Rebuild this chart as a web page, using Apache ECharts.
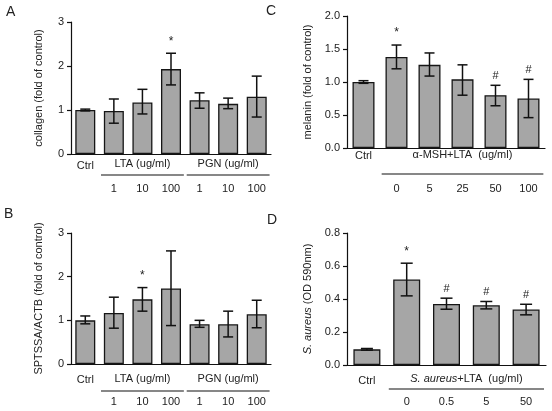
<!DOCTYPE html>
<html><head><meta charset="utf-8">
<script src="https://cdn.jsdelivr.net/npm/echarts@6/dist/echarts.min.js"></script>
<style>html,body{margin:0;padding:0;background:#fff}#c{width:552px;height:411px}</style>
</head><body><div id="c"></div>
<script>
// ---- Panel A: collagen ----
const catA = ['Ctrl','1','10','100','1','10','100'];
const valA = [1.00, 0.98, 1.17, 1.93, 1.22, 1.14, 1.30];
const loA  = [0.98, 0.70, 0.91, 1.57, 1.04, 1.03, 0.84];
const hiA  = [1.02, 1.25, 1.47, 2.29, 1.39, 1.27, 1.77];
const markA = ['', '', '', '*', '', '', ''];
const groupsA = [{label:'LTA (ug/ml)', from:1, to:3}, {label:'PGN (ug/ml)', from:4, to:6}];

// ---- Panel B: SPTSSA/ACTB ----
const catB = ['Ctrl','1','10','100','1','10','100'];
const valB = [1.00, 1.17, 1.48, 1.73, 0.91, 0.91, 1.14];
const loB  = [0.92, 0.82, 1.21, 0.88, 0.84, 0.62, 0.83];
const hiB  = [1.10, 1.53, 1.75, 2.59, 1.00, 1.21, 1.46];
const markB = ['', '', '*', '', '', '', ''];
const groupsB = [{label:'LTA (ug/ml)', from:1, to:3}, {label:'PGN (ug/ml)', from:4, to:6}];

// ---- Panel C: melanin ----
const catC = ['Ctrl','0','5','25','50','100'];
const valC = [1.00, 1.38, 1.26, 1.04, 0.80, 0.75];
const loC  = [0.98, 1.20, 1.09, 0.80, 0.64, 0.46];
const hiC  = [1.02, 1.56, 1.44, 1.26, 0.95, 1.04];
const markC = ['', '*', '', '', '#', '#'];
const groupsC = [{label:'\u03b1-MSH+LTA  (ug/ml)', from:1, to:5}];

// ---- Panel D: S. aureus ----
const catD = ['Ctrl','0','0.5','5','50'];
const valD = [0.095, 0.518, 0.370, 0.362, 0.336];
const loD  = [0.090, 0.419, 0.338, 0.340, 0.304];
const hiD  = [0.100, 0.617, 0.405, 0.385, 0.368];
const markD = ['', '*', '#', '#', '#'];
const groupsD = [{label:'{i|S. aureus}+LTA  (ug/ml)', from:1, to:4}];

const FONT = "'Liberation Sans', Arial, sans-serif";
const TXT = '#222';

const panels = [
  {cat:catA, val:valA, lo:loA, hi:hiA, mark:markA, groups:groupsA, letter:'A', lx:12, ly:13,
   grid:{left:71, top:22, width:200, height:132}, max:3, interval:1, dec:0,
   name:'collagen (fold of control)', nameGap:27, barW:20, capW:5,
   numOff:27, ctrlOff:4, grpOff:10, lineOff:21},
  {cat:catB, val:valB, lo:loB, hi:hiB, mark:markB, groups:groupsB, letter:'B', lx:10, ly:215,
   grid:{left:71, top:233, width:200, height:131}, max:3, interval:1, dec:0,
   name:'SPTSSA/ACTB (fold of control)', nameGap:27, barW:20, capW:5,
   numOff:30, ctrlOff:8, grpOff:15, lineOff:27},
  {cat:catC, val:valC, lo:loC, hi:hiC, mark:markC, groups:groupsC, letter:'C', lx:272, ly:12,
   grid:{left:347, top:16, width:198, height:132}, max:2, interval:0.5, dec:1,
   name:'melanin (fold of control)', nameGap:34, barW:22, capW:5,
   numOff:33, ctrlOff:0, grpOff:7, lineOff:26},
  {cat:catD, val:valD, lo:loD, hi:hiD, mark:markD, groups:groupsD, letter:'D', lx:273, ly:221,
   grid:{left:347, top:233, width:199, height:132}, max:0.8, interval:0.2, dec:1,
   name:'{i|S. aureus} (OD 590nm)', nameGap:34, barW:27, capW:6,
   numOff:29, ctrlOff:8, grpOff:14, lineOff:24}
];

const chart = echarts.init(document.getElementById('c'), null, {renderer:'canvas'});

const option = {
  animation:false,
  backgroundColor:'#fff',
  textStyle:{fontFamily:FONT},
  grid:[], xAxis:[], yAxis:[], series:[]
};

panels.forEach((p, i) => {
  option.grid.push(Object.assign({containLabel:false}, p.grid));
  option.xAxis.push({
    type:'category', gridIndex:i, data:p.cat,
    axisLine:{lineStyle:{color:'#111', width:1.2}},
    axisTick:{show:false},
    axisLabel:{
      interval:0, margin:2, color:TXT, fontFamily:FONT, fontSize:11,
      formatter:(v) => v === 'Ctrl' ? '{c|Ctrl}' : '{n|' + v + '}',
      rich:{
        c:{fontSize:11, fontFamily:FONT, color:TXT, padding:[p.ctrlOff,0,0,0]},
        n:{fontSize:11, fontFamily:FONT, color:TXT, padding:[p.numOff,0,0,0]}
      }
    }
  });
  option.yAxis.push({
    type:'value', gridIndex:i, min:0, max:p.max, interval:p.interval,
    name:p.name, nameLocation:'middle', nameGap:p.nameGap, nameRotate:90,
    nameTextStyle:{fontSize:11, fontFamily:FONT, color:TXT,
      rich:{i:{fontStyle:'italic', fontSize:11, fontFamily:FONT, color:TXT}}},
    splitLine:{show:false},
    axisLine:{show:true, lineStyle:{color:'#111', width:1.2}},
    axisTick:{show:true, inside:false, length:4, lineStyle:{color:'#111', width:1.2}},
    axisLabel:{color:TXT, fontSize:11, fontFamily:FONT, margin:7,
      formatter:(v) => v.toFixed(p.dec)}
  });
  option.series.push({
    type:'bar', xAxisIndex:i, yAxisIndex:i, data:p.val, barWidth:p.barW,
    itemStyle:{color:'#a6a6a6', borderColor:'#161616', borderWidth:1.3},
    z:2
  });
  const errData = p.val.map((v, k) => [k, p.lo[k], p.hi[k]]);
  option.series.push({
    type:'custom', xAxisIndex:i, yAxisIndex:i, data:errData, z:5,
    encode:{x:0, y:[1,2]},
    renderItem:(params, api) => {
      const x = api.value(0);
      const lo = api.coord([x, api.value(1)]);
      const hi = api.coord([x, api.value(2)]);
      const w = p.capW;
      const st = {stroke:'#111', lineWidth:1.5};
      const children = [
        {type:'line', shape:{x1:lo[0], y1:lo[1], x2:hi[0], y2:hi[1]}, style:st},
        {type:'line', shape:{x1:hi[0]-w, y1:hi[1], x2:hi[0]+w, y2:hi[1]}, style:st},
        {type:'line', shape:{x1:lo[0]-w, y1:lo[1], x2:lo[0]+w, y2:lo[1]}, style:st}
      ];
      const m = p.mark[params.dataIndex];
      if (m) {
        children.push({type:'text', style:{text:m, x:hi[0], y:hi[1] - (m === '*' ? 6 : 4),
          textAlign:'center', textVerticalAlign:'bottom',
          font: (m === '*' ? '12px ' : '11px ') + FONT, fill:TXT}});
      }
      return {type:'group', children};
    }
  });
});

chart.setOption(option);

// annotations under the axes, positioned through the axis scales
const graphics = [];
panels.forEach((p, i) => {
  graphics.push({type:'text', left:p.lx - 6, top:p.ly - 8,
    style:{text:p.letter, font:'14px ' + FONT, fill:TXT}});
  const y0 = chart.convertToPixel({yAxisIndex:i}, 0);
  const step = chart.convertToPixel({xAxisIndex:i}, 1) - chart.convertToPixel({xAxisIndex:i}, 0);
  p.groups.forEach(g => {
    const xa = chart.convertToPixel({xAxisIndex:i}, g.from);
    const xb = chart.convertToPixel({xAxisIndex:i}, g.to);
    graphics.push({type:'text', x:(xa + xb) / 2, y:y0 + p.grpOff,
      style:{text:g.label, font:'11px ' + FONT, fill:TXT, textAlign:'center', textVerticalAlign:'middle',
        rich:{i:{fontStyle:'italic', fontSize:11, fontFamily:FONT, fill:TXT}}}});
    graphics.push({type:'line', shape:{x1:xa - step * 0.45, y1:y0 + p.lineOff, x2:xb + step * 0.45, y2:y0 + p.lineOff},
      style:{stroke:'#111', lineWidth:1.2}});
  });
});
chart.setOption({graphic:graphics});
</script>
</body></html>
